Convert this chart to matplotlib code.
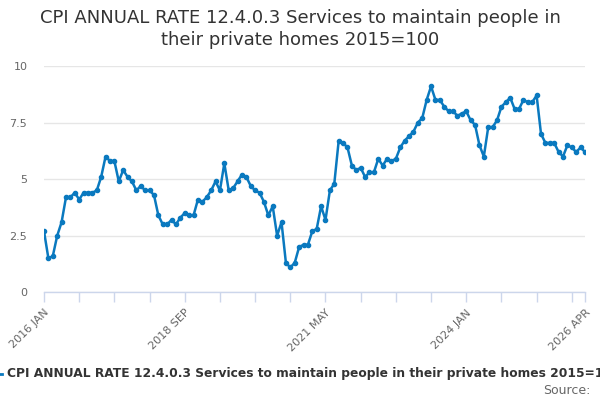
import matplotlib
matplotlib.use("Agg")
import matplotlib.pyplot as plt
import pandas as pd

# monthly annual rate (%), 2016 JAN onwards
values = [
    2.7, 1.5, 1.6, 2.5, 3.1, 4.2, 4.2, 4.4, 4.1, 4.4, 4.4, 4.4,   # 2016
    4.5, 5.1, 6.0, 5.8, 5.8, 4.9, 5.4, 5.1, 4.9, 4.5, 4.7, 4.5,   # 2017
    4.5, 4.3, 3.4, 3.0, 3.0, 3.2, 3.0, 3.3, 3.5, 3.4, 3.4, 4.1,   # 2018
    4.0, 4.2, 4.5, 4.9, 4.5, 5.7, 4.5, 4.6, 4.9, 5.2, 5.1, 4.7,   # 2019
    4.5, 4.4, 4.0, 3.4, 3.8, 2.5, 3.1, 1.3, 1.1, 1.3, 2.0, 2.1,   # 2020
    2.1, 2.7, 2.8, 3.8, 3.2, 4.5, 4.8, 6.7, 6.6, 6.4, 5.6, 5.4,   # 2021
    5.5, 5.1, 5.3, 5.3, 5.9, 5.6, 5.9, 5.8, 5.9, 6.4, 6.7, 6.9,   # 2022
    7.1, 7.5, 7.7, 8.5, 9.1, 8.5, 8.5, 8.2, 8.0, 8.0, 7.8, 7.9,   # 2023
    8.0, 7.6, 7.4, 6.5, 6.0, 7.3, 7.3, 7.6, 8.2, 8.4, 8.6, 8.1,   # 2024
    8.1, 8.5, 8.4, 8.4, 8.7, 7.0, 6.6, 6.6, 6.6, 6.2, 6.0, 6.5,   # 2025
    6.4, 6.2, 6.4, 6.2,                                           # 2026
]
months = [p.strftime("%Y %b").upper() for p in pd.period_range("2016-01", "2026-04", freq="M")]
yticks = [0, 2.5, 5, 7.5, 10]
ytick_labels = ["0", "2.5", "5", "7.5", "10"]

title = "CPI ANNUAL RATE 12.4.0.3 Services to maintain people in\ntheir private homes 2015=100"
series_name = "CPI ANNUAL RATE 12.4.0.3 Services to maintain people in their private homes 2015=100"

line_col = "#0a79bf"
axis_col = "#ccd6eb"
grid_col = "#e6e6e6"
text_col = "#666666"

W, H = 600, 400
fig = plt.figure(figsize=(6, 4), dpi=100)
ax = fig.add_axes([44 / W, (H - 292.3) / H, (585 - 44) / W, (292.3 - 66) / H])

x = list(range(len(values)))
ax.plot(x, values, color=line_col, lw=1.8, marker="o", ms=3, mec=line_col, mfc=line_col, zorder=3)

ax.set_xlim(0, len(months) - 1)
ax.set_ylim(0, 10)

# ticks every 8 months plus the last month, labels every 4th tick
tick_pos = list(range(0, len(months) - 1, 8)) + [len(months) - 1]
ax.set_xticks(tick_pos)
ax.set_xticklabels([months[p] if (p % 32 == 0 or p == len(months) - 1) else "" for p in tick_pos],
                   rotation=45, ha="right", rotation_mode="anchor")
ax.tick_params(axis="x", direction="out", length=7, width=1, color=axis_col,
               labelcolor=text_col, labelsize=8, pad=4)

ax.set_yticks(yticks)
ax.set_yticklabels(ytick_labels)
ax.tick_params(axis="y", length=0, labelcolor=text_col, labelsize=8, pad=12)
ax.yaxis.grid(True, color=grid_col, lw=1)
ax.set_axisbelow(True)

for s in ["top", "right", "left"]:
    ax.spines[s].set_visible(False)
ax.spines["bottom"].set_color(axis_col)
ax.spines["bottom"].set_linewidth(1)

fig.text(0.5, 1 - 29 / H, title, ha="center", va="center", fontsize=13, color="#333333", linespacing=1.25)

# legend row, overflowing the figure like the original
fig.lines.append(plt.Line2D([-10 / W, 2 / W], [1 - 374 / H] * 2, color=line_col, lw=2, transform=fig.transFigure))
fig.text(7 / W, 1 - 374 / H, series_name, ha="left", va="center", fontsize=8.8, fontweight="bold", color="#333333")
fig.text(590 / W, 1 - 391 / H, "Source:", ha="right", va="center", fontsize=9, color=text_col)

fig.savefig("out.png", dpi=100)
